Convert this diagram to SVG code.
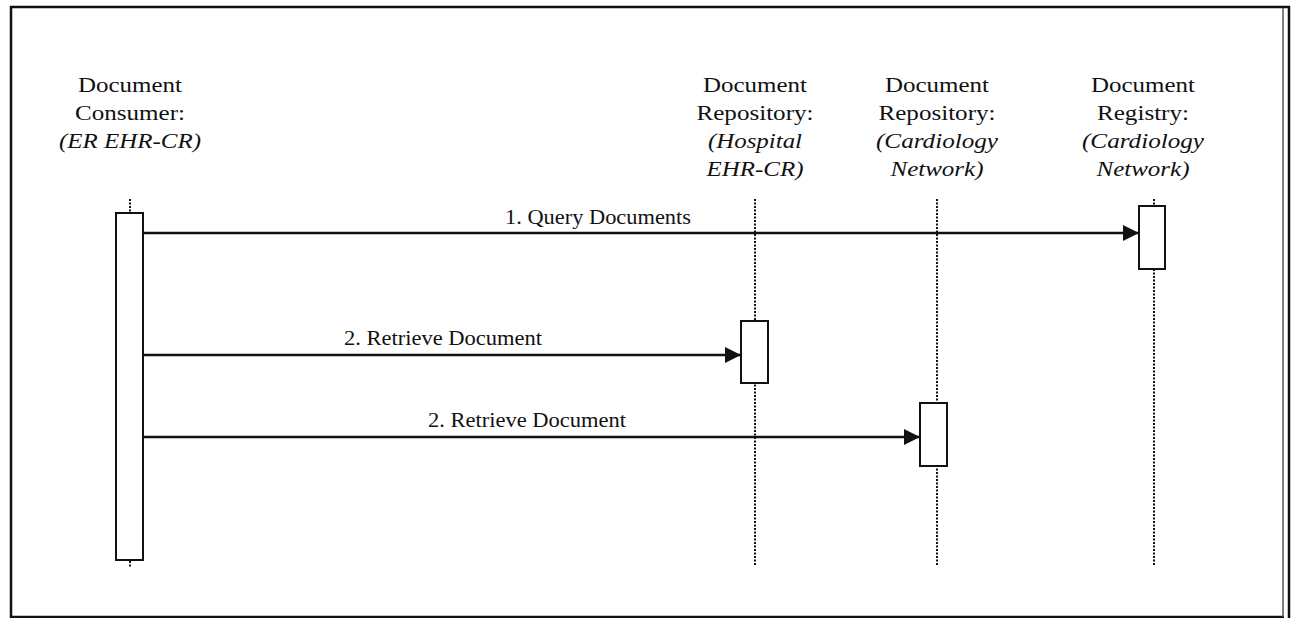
<svg xmlns="http://www.w3.org/2000/svg" width="1297" height="618" viewBox="0 0 1297 618">
<style>
.t{font-family:'Liberation Serif','DejaVu Serif',serif;font-size:22px;fill:#111;text-anchor:middle}
.i{font-style:italic}
.lbl{font-family:'Liberation Serif','DejaVu Serif',serif;font-size:20px;fill:#111;text-anchor:middle}
.life{stroke:#111;stroke-width:2;stroke-dasharray:2 1.5;fill:none}
.act{fill:#fff;stroke:#111;stroke-width:2}
.msg{stroke:#111;stroke-width:2.6;fill:none}
.frame{stroke:#111;stroke-width:2.5;fill:none}
</style>
<defs>
<marker id="ah" markerUnits="userSpaceOnUse" markerWidth="17" markerHeight="17" refX="16" refY="8" orient="auto">
<path d="M0,0 L16,8 L0,16 Z" fill="#111"/>
</marker>
</defs>
<rect x="0" y="0" width="1297" height="618" fill="#fff"/>
<g id="frame">
<line class="frame" x1="10" y1="7" x2="1290" y2="7"/>
<line class="frame" x1="11" y1="6" x2="11" y2="618"/>
<line class="frame" x1="10" y1="617" x2="1284" y2="617"/>
<line x1="1283" y1="8" x2="1283" y2="617" stroke="#555" stroke-width="1.5"/>
<line class="frame" x1="1289" y1="6" x2="1289" y2="618"/>
</g>
<g id="consumer">
<text class="t" x="130" y="92" textLength="104" lengthAdjust="spacingAndGlyphs">Document</text>
<text class="t" x="130" y="120" textLength="110" lengthAdjust="spacingAndGlyphs">Consumer:</text>
<text class="t i" x="130" y="148" textLength="142" lengthAdjust="spacingAndGlyphs">(ER EHR-CR)</text>
<line class="life" x1="130" y1="199" x2="130" y2="212"/>
<line class="life" x1="130" y1="561" x2="130" y2="567"/>
<rect class="act" x="116" y="213" width="27" height="347"/>
</g>
<g id="hospital-repository">
<text class="t" x="755" y="92" textLength="104" lengthAdjust="spacingAndGlyphs">Document</text>
<text class="t" x="755" y="120" textLength="117" lengthAdjust="spacingAndGlyphs">Repository:</text>
<text class="t i" x="755" y="148" textLength="94" lengthAdjust="spacingAndGlyphs">(Hospital</text>
<text class="t i" x="755" y="176" textLength="97" lengthAdjust="spacingAndGlyphs">EHR-CR)</text>
<line class="life" x1="755" y1="199" x2="755" y2="566"/>
<rect class="act" x="741" y="321" width="27" height="62"/>
</g>
<g id="cardiology-repository">
<text class="t" x="937" y="92" textLength="104" lengthAdjust="spacingAndGlyphs">Document</text>
<text class="t" x="937" y="120" textLength="117" lengthAdjust="spacingAndGlyphs">Repository:</text>
<text class="t i" x="937" y="148" textLength="122" lengthAdjust="spacingAndGlyphs">(Cardiology</text>
<text class="t i" x="937" y="176" textLength="93" lengthAdjust="spacingAndGlyphs">Network)</text>
<line class="life" x1="937" y1="199" x2="937" y2="566"/>
<rect class="act" x="920" y="403" width="27" height="63"/>
</g>
<g id="cardiology-registry">
<text class="t" x="1143" y="92" textLength="104" lengthAdjust="spacingAndGlyphs">Document</text>
<text class="t" x="1143" y="120" textLength="92" lengthAdjust="spacingAndGlyphs">Registry:</text>
<text class="t i" x="1143" y="148" textLength="122" lengthAdjust="spacingAndGlyphs">(Cardiology</text>
<text class="t i" x="1143" y="176" textLength="93" lengthAdjust="spacingAndGlyphs">Network)</text>
<line class="life" x1="1154" y1="199" x2="1154" y2="566"/>
<rect class="act" x="1139" y="206" width="26" height="63"/>
</g>
<g id="connectors">
<line class="msg" x1="143" y1="233" x2="1139" y2="233" marker-end="url(#ah)"/>
<text class="lbl" x="598" y="224" textLength="186" lengthAdjust="spacingAndGlyphs">1. Query Documents</text>
<line class="msg" x1="143" y1="355" x2="741" y2="355" marker-end="url(#ah)"/>
<text class="lbl" x="443" y="345" textLength="198" lengthAdjust="spacingAndGlyphs">2. Retrieve Document</text>
<line class="msg" x1="143" y1="437" x2="920" y2="437" marker-end="url(#ah)"/>
<text class="lbl" x="527" y="427" textLength="198" lengthAdjust="spacingAndGlyphs">2. Retrieve Document</text>
</g>
</svg>
